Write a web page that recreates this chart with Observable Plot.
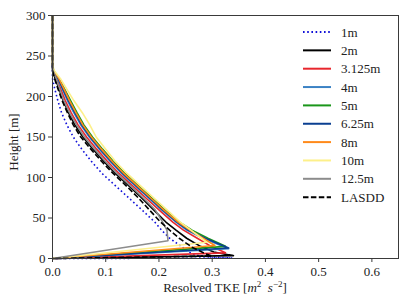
<!DOCTYPE html>
<html><head><meta charset="utf-8">
<script src="https://cdn.jsdelivr.net/npm/d3@7"></script>
<script src="https://cdn.jsdelivr.net/npm/@observablehq/plot@0.6"></script>
<style>
body{margin:0;background:#fff;}
svg{display:block;}
</style>
</head><body><div id="chart"></div>
<script>
// ---- data ----
const seriesNames = ["1m", "2m", "3.125m", "4m", "5m", "6.25m", "8m", "10m", "12.5m", "LASDD"];
const seriesColors = ["#1010d8", "#000000", "#e8262d", "#3b82c4", "#1a961a", "#0a3f91", "#ff8a1a", "#fdf08a", "#8c8c8c", "#000000"];
const seriesDash = ["1.6,2.6", null, null, null, null, null, null, null, null, "5.5,2.4"];
const xTicks = [0, 0.1, 0.2, 0.3, 0.4, 0.5, 0.6];
const yTicks = [0, 50, 100, 150, 200, 250, 300];

// shared upper heights [m]
const hTop = [300, 240, 232, 222, 210, 195, 180, 165, 150, 135, 120, 105, 90, 75, 60, 45, 35, 25];

// per-series near-surface heights [m]
const hBot1m    = [15, 8, 4, 2, 0.5, 0];
const hBot2m    = [15, 8, 3.5, 0];
const hBot3125m = [15, 7, 0];
const hBot4m    = [12, 0];
const hBot5m    = [15, 0];
const hBot625m  = [13, 0];
const hBot8m    = [16, 0];
const hBot10m   = [20, 0];
const hBot125m  = [22, 0];
const hBotLASDD = [14, 6, 3, 0];

// resolved TKE [m2 s-2]  (hTop values followed by hBot values)
const tke1m    = [0,0,0,0,0.004,0.010,0.017,0.027,0.039,0.055,0.073,0.093,0.118,0.143,0.168,0.192,0.205,0.220, 0.242,0.256,0.270,0.295,0.338,0];
const tke2m    = [0,0,0,0.005,0.012,0.020,0.030,0.042,0.057,0.076,0.096,0.118,0.143,0.167,0.190,0.213,0.232,0.252, 0.278,0.303,0.340,0];
const tke3125m = [0,0,0.001,0.008,0.015,0.024,0.035,0.048,0.064,0.083,0.103,0.125,0.150,0.175,0.200,0.226,0.246,0.272, 0.298,0.325,0];
const tke4m    = [0,0,0.001,0.010,0.018,0.028,0.040,0.053,0.069,0.088,0.108,0.130,0.155,0.180,0.205,0.232,0.252,0.283, 0.331,0];
const tke5m    = [0,0,0.002,0.012,0.022,0.034,0.046,0.059,0.075,0.094,0.114,0.136,0.161,0.186,0.211,0.238,0.262,0.292, 0.325,0];
const tke625m  = [0,0,0.001,0.011,0.019,0.030,0.042,0.055,0.071,0.090,0.110,0.132,0.157,0.182,0.207,0.234,0.255,0.287, 0.331,0];
const tke8m    = [0,0,0.002,0.012,0.021,0.032,0.044,0.057,0.073,0.092,0.112,0.134,0.159,0.184,0.209,0.236,0.258,0.283, 0.305,0];
const tke10m   = [0,0,0.003,0.015,0.026,0.040,0.056,0.070,0.082,0.100,0.118,0.140,0.165,0.190,0.215,0.240,0.260,0.280, 0.290,0];
const tke125m  = [0,0,0.001,0.007,0.013,0.021,0.032,0.045,0.060,0.079,0.099,0.121,0.146,0.170,0.193,0.207,0.215, 0.217,0];
const tkeLASDD = [0,0,0,0.004,0.010,0.018,0.028,0.039,0.053,0.072,0.092,0.114,0.138,0.161,0.182,0.203,0.220,0.238, 0.262,0.287,0.300,0];

const hTop125 = hTop.slice(0, 17); // 12.5m has no 25 m level

const seriesHeights = [
  hTop.concat(hBot1m), hTop.concat(hBot2m), hTop.concat(hBot3125m), hTop.concat(hBot4m),
  hTop.concat(hBot5m), hTop.concat(hBot625m), hTop.concat(hBot8m), hTop.concat(hBot10m),
  hTop125.concat(hBot125m), hTop.concat(hBotLASDD)
];
const seriesTke = [tke1m, tke2m, tke3125m, tke4m, tke5m, tke625m, tke8m, tke10m, tke125m, tkeLASDD];

const series = seriesNames.map((name, i) => ({
  name, color: seriesColors[i], dash: seriesDash[i],
  rows: seriesHeights[i].map((h, j) => ({h, v: seriesTke[i][j]}))
}));

// ---- chart ----
const FONT = "'Liberation Serif', 'DejaVu Serif', serif";
const FS = "13px";
const AX = "#3a3a3a";

const lineMarks = series.map(s => Plot.line(s.rows, {
  x: "v", y: "h", stroke: s.color, strokeWidth: 1.6,
  strokeDasharray: s.dash || undefined, strokeLinejoin: "round", strokeLinecap: "butt"
}));

const chart = Plot.plot({
  width: 407, height: 305,
  marginLeft: 52, marginRight: 9, marginTop: 15, marginBottom: 47,
  style: {fontSize: FS, background: "#fff", color: "#000"},
  x: {domain: [0, 0.65]},
  y: {domain: [0, 300]},
  marks: [
    ...lineMarks,
    Plot.frame({stroke: AX, strokeWidth: 1}),
    Plot.axisX({ticks: xTicks, tickFormat: d3.format(".1f"), tickSize: 4, tickPadding: 4, label: null, stroke: AX, fill: "#222"}),
    Plot.axisY({ticks: yTicks, tickFormat: d3.format("d"), tickSize: 4, tickPadding: 3, label: null, stroke: AX, fill: "#222"})
  ]
});
document.getElementById("chart").appendChild(chart);

const svg = d3.select(chart);

// axis titles
svg.append("text")
  .attr("transform", "translate(13,142) rotate(-90)")
  .attr("text-anchor", "middle").attr("dominant-baseline", "central")
  .attr("fill", "#222")
  .text("Height [m]");

const xl = svg.append("text")
  .attr("x", 225).attr("y", 292).attr("text-anchor", "middle")
  .attr("fill", "#222");
xl.append("tspan").text("Resolved TKE [");
xl.append("tspan").attr("font-style", "italic").text("m");
xl.append("tspan").style("font-size", "9px").attr("dy", -5).text("2");
xl.append("tspan").attr("dy", 5).text("\u2002");
xl.append("tspan").attr("font-style", "italic").text("s");
xl.append("tspan").style("font-size", "9px").attr("dy", -5).text("\u22122");
xl.append("tspan").attr("dy", 5).text("]");

// legend
const lg = svg.append("g");
series.forEach((s, i) => {
  const y = 32 + i * 18.35;
  lg.append("line").attr("x1", 303).attr("x2", 331).attr("y1", y).attr("y2", y)
    .attr("stroke", s.color).attr("stroke-width", 2)
    .attr("stroke-dasharray", s.dash || null);
  lg.append("text").attr("x", 341).attr("y", y).attr("text-anchor", "start")
    .attr("dominant-baseline", "central")
    .attr("fill", "#222").text(s.name);
});

// force the serif font on every text element via inline style
svg.selectAll("text").style("font-family", FONT).each(function () {
  if (!this.style.fontSize) this.style.fontSize = FS;
});
</script>
</body></html>
